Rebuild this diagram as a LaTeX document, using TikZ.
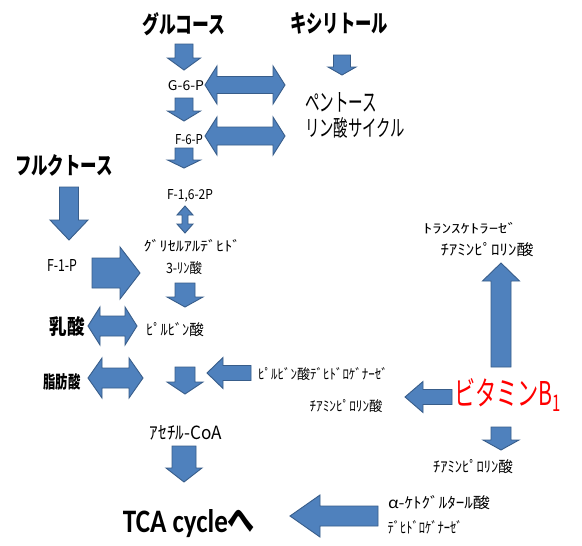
\documentclass[tikz,border=0pt]{standalone}
\usepackage{fontspec}
\usepackage{graphicx}
\setmainfont{Liberation Sans}
\newfontfamily\jp{Noto Sans CJK JP}
\newfontfamily\tcafont{Carlito}
\newcommand\fitbox[3]{\resizebox{#1pt}{#2pt}{#3}}
\definecolor{arrowfill}{HTML}{4F81BD}
\definecolor{arrowline}{HTML}{385D8A}
\definecolor{vitred}{HTML}{FF0000}
\tikzset{
  blk/.style={fill=arrowfill, draw=arrowline, line width=0.9pt, line join=miter},
  lbl/.style={inner sep=0pt, font=\jp},
}
% down/up block arrow: cx, start y, shaft half width, head base y, head half width, tip y
\newcommand\VArr[6]{\draw[blk] (#1-#3,#2) -- (#1+#3,#2) -- (#1+#3,#4) -- (#1+#5,#4) -- (#1,#6) -- (#1-#5,#4) -- (#1-#3,#4) -- cycle;}
% left/right block arrow: cy, tail x, shaft half height, head base x, head half height, tip x
\newcommand\HArr[6]{\draw[blk] (#2,#1-#3) -- (#2,#1+#3) -- (#4,#1+#3) -- (#4,#1+#5) -- (#6,#1) -- (#4,#1-#5) -- (#4,#1-#3) -- cycle;}
% horizontal double arrow: cy, left tip, right tip, head depth, shaft half, head half
\newcommand\HDbl[6]{\draw[blk] (#2,#1) -- (#2+#4,#1-#6) -- (#2+#4,#1-#5) -- (#3-#4,#1-#5) -- (#3-#4,#1-#6) -- (#3,#1) -- (#3-#4,#1+#6) -- (#3-#4,#1+#5) -- (#2+#4,#1+#5) -- (#2+#4,#1+#6) -- cycle;}
% vertical double arrow: cx, top tip, bottom tip, head depth, shaft half, head half
\newcommand\VDbl[6]{\draw[blk] (#1,#2) -- (#1+#6,#2+#4) -- (#1+#5,#2+#4) -- (#1+#5,#3-#4) -- (#1+#6,#3-#4) -- (#1,#3) -- (#1-#6,#3-#4) -- (#1-#5,#3-#4) -- (#1-#5,#2+#4) -- (#1-#6,#2+#4) -- cycle;}
\begin{document}
\begin{tikzpicture}[x=1pt,y=-1pt]
\fill[white] (0,0) rectangle (582,546);
\useasboundingbox (0,0) rectangle (582,546);

% ---------- block arrows ----------
\VArr{184}{44}{9}{58}{16.5}{70}
\VArr{184}{98}{9}{111}{16.5}{121}
\VArr{184}{148}{9}{160}{16.5}{168}
\VArr{342}{55}{8.5}{67}{14}{75}
\VArr{69}{187}{9.5}{220}{19}{240}
\VArr{185}{283}{10}{297}{18}{307}
\VArr{185}{367}{10}{382}{18}{394}
\VArr{184}{446}{12}{468}{18}{482}
\VArr{501}{367}{10}{281}{18.5}{263}
\VArr{501}{427}{10}{440}{18}{450}
\HArr{273}{92}{15}{120}{26}{140}
\HArr{373}{251}{7.5}{223}{15.5}{207}
\HArr{397}{452}{7.5}{423}{15.5}{405}
\HArr{516}{378}{10}{320}{21}{290}
\HDbl{85}{205}{285}{12}{8.5}{19}
\HDbl{136}{205}{285}{12}{9}{19}
\HDbl{326}{88}{137}{12}{10}{19}
\HDbl{378}{88}{143}{14}{10}{20}
\VDbl{185}{206}{233}{9}{3}{8}

% ---------- labels ----------
\node[lbl] (glc) at (184,24) {\fitbox{83}{21}{\bfseries グルコース}};
\node[lbl] (xyl) at (339,23) {\fitbox{98}{20}{\bfseries キシリトール}};
\node[lbl] (fru) at (64,165) {\fitbox{98}{20}{\bfseries フルクトース}};
\node[lbl] (pen1) at (341,102) {\fitbox{72}{19}{ペントース}};
\node[lbl] (pen2) at (355,128) {\fitbox{100}{19}{リン酸サイクル}};
\node[lbl] (g6p) at (186,86) {\fitbox{36}{10}{G-6-P}};
\node[lbl] (f6p) at (189,140) {\fitbox{28}{10}{F-6-P}};
\node[lbl] (f16) at (190,196) {\fitbox{46}{10}{F-1,6-2P}};
\node[lbl] (f1p) at (62,265) {\fitbox{30}{12}{F-1-P}};
\node[lbl] (gly) at (192,246) {\fitbox{97}{12}{ｸﾞﾘｾﾙｱﾙﾃﾞﾋﾄﾞ}};
\node[lbl] (p3) at (184,268) {\fitbox{36}{12}{3-ﾘﾝ酸}};
\node[lbl] (pyr) at (175,330) {\fitbox{58}{13}{ﾋﾟﾙﾋﾞﾝ酸}};
\node[lbl] (lac) at (67,327) {\fitbox{35}{18}{\bfseries 乳酸}};
\node[lbl] (fat) at (62,382) {\fitbox{37}{15}{\bfseries 脂肪酸}};
\node[lbl] (pdh) at (323,374) {\fitbox{130}{12}{ﾋﾟﾙﾋﾞﾝ酸ﾃﾞﾋﾄﾞﾛｹﾞﾅｰｾﾞ}};
\node[lbl] (tpp1) at (346,406) {\fitbox{73}{12}{ﾁｱﾐﾝﾋﾟﾛﾘﾝ酸}};
\node[lbl] (acoa) at (186,433) {\fitbox{72}{14}{ｱｾﾁﾙ-CoA}};
\node[lbl, text=vitred] (vb1) at (508,395) {\fitbox{108}{27}{ビタミンB\textsubscript{1}}};
\node[lbl] (tk) at (470,228) {\fitbox{94}{11}{ﾄﾗﾝｽｹﾄﾗｰｾﾞ}};
\node[lbl] (tpp0) at (487,250) {\fitbox{93}{13}{ﾁｱﾐﾝﾋﾟﾛﾘﾝ酸}};
\node[lbl] (tpp2) at (473,467) {\fitbox{80}{13}{ﾁｱﾐﾝﾋﾟﾛﾘﾝ酸}};
\node[lbl] (akg1) at (439,503) {\fitbox{102}{13}{α-ｹﾄｸﾞﾙﾀｰﾙ酸}};
\node[lbl] (akg2) at (425,527) {\fitbox{75}{13}{ﾃﾞﾋﾄﾞﾛｹﾞﾅｰｾﾞ}};
\node[lbl] (tca) at (189,524) {\fitbox{132}{23}{\tcafont\bfseries TCA cycle{\jp\bfseries へ}}};
\end{tikzpicture}
\end{document}
